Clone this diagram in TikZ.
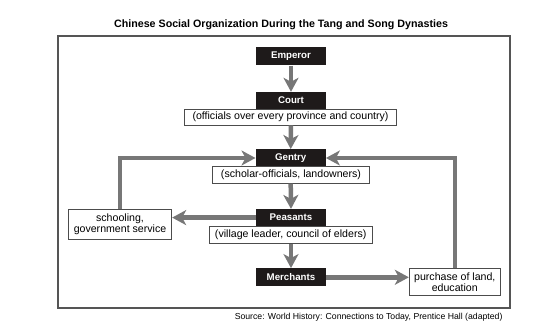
\documentclass[tikz,border=0pt]{standalone}
\usepackage{fontspec}
\setmainfont{Liberation Sans}
\usetikzlibrary{arrows.meta}
\definecolor{arrowgray}{HTML}{777777}
\definecolor{framegray}{HTML}{555555}
\definecolor{boxblack}{HTML}{1E1A1A}
\tikzset{
  rank/.style={fill=boxblack, text=white, font=\bfseries\fontsize{9.7}{11}\selectfont, minimum width=70pt, minimum height=17.5pt, inner sep=0pt},
  sub/.style={draw=black!70, line width=0.8pt, fill=white, font=\fontsize{10.6}{12}\selectfont, minimum height=16pt, inner sep=0pt},
  side/.style={draw=black!70, line width=0.9pt, fill=white, font=\fontsize{10.6}{11.2}\selectfont, align=center, inner sep=0pt},
  flow/.style={draw=arrowgray, line width=4.5pt, -{Stealth[length=14pt,width=15pt,inset=4pt]}},
}
\begin{document}
\begin{tikzpicture}[x=1pt,y=-1pt]
\useasboundingbox (0,0) rectangle (552,328);
\node (title) at (281,24.5) {\bfseries\fontsize{10.7}{12}\selectfont Chinese Social Organization During the Tang and Song Dynasties};
\draw[framegray, line width=1.5pt] (58,36) rectangle (510,308);

\node[rank, minimum height=18pt] (emperor) at (291,56.5) {Emperor};
\node[rank, minimum height=17pt] (court) at (291,100.5) {Court};
\node[sub, minimum width=211.7pt] (courtsub) at (290.5,117) {(officials over every province and country)};
\node[rank] (gentry) at (290.7,158) {Gentry};
\node[sub, minimum width=156.6pt, minimum height=16.6pt] (gentrysub) at (291,175) {(scholar-officials, landowners)};
\node[rank, minimum height=17pt] (peasants) at (291,217.6) {Peasants};
\node[sub, minimum width=162.7pt, minimum height=17.3pt] (peasantssub) at (290.7,234.7) {(village leader, council of elders)};
\node[rank, minimum height=18pt] (merchants) at (291,277.3) {Merchants};
\node[side, minimum width=103.4pt, minimum height=29.7pt] (school) at (120,224.2) {schooling,\\government service};
\node[side, minimum width=91pt, minimum height=26.7pt] (purchase) at (454.8,282.3) {purchase of land,\\education};

\node[anchor=east, inner sep=0pt, font=\fontsize{8.7}{10}\selectfont] (source) at (502.7,317.3) {Source: World History: Connections to Today, Prentice Hall (adapted)};

\draw[flow] (emperor.south) -- (court.north);
\draw[flow] (courtsub.south -| court.south) -- (gentry.north);
\draw[flow] (gentrysub.south -| gentry.south) -- (peasants.north);
\draw[flow] (peasantssub.south -| peasants.south) -- (merchants.north);
\draw[flow] (peasants.west) -- (school.east |- peasants.west);
\draw[flow] (merchants.east) -- (purchase.west |- merchants.east);
\draw[flow] (school.north) |- (gentry.west);
\draw[flow] (purchase.north) |- (gentry.east);
\end{tikzpicture}
\end{document}
